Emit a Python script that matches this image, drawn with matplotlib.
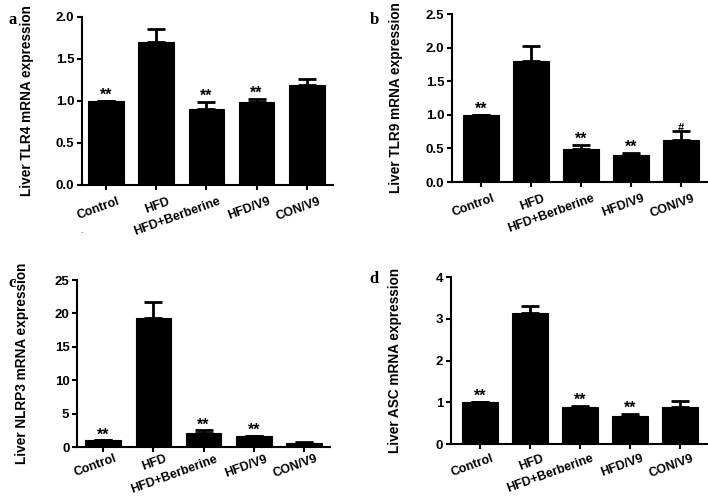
import matplotlib
matplotlib.use('Agg')
import matplotlib.pyplot as plt
from matplotlib.transforms import ScaledTranslation

# groups on the x axis
groups = ['Control', 'HFD', 'HFD+Berberine', 'HFD/V9', 'CON/V9']

# mean and upper error (SEM)
tlr4 = [1.0, 1.70, 0.905, 0.985, 1.195]
tlr4_err = [0.0, 0.155, 0.08, 0.04, 0.065]
tlr4_sig = ['**', '', '**', '**', '']

tlr9 = [1.0, 1.80, 0.49, 0.40, 0.625]
tlr9_err = [0.0, 0.22, 0.065, 0.035, 0.135]
tlr9_sig = ['**', '', '**', '**', '#']

nlrp3 = [1.0, 19.25, 2.1, 1.6, 0.6]
nlrp3_err = [0.0, 2.45, 0.4, 0.1, 0.1]
nlrp3_sig = ['**', '', '**', '**', '']

asc = [1.0, 3.14, 0.88, 0.68, 0.89]
asc_err = [0.0, 0.17, 0.035, 0.04, 0.13]
asc_sig = ['**', '', '**', '**', '']

plt.rcParams['font.family'] = ['Liberation Sans', 'DejaVu Sans']
plt.rcParams['font.weight'] = 'bold'

fig = plt.figure(figsize=(7.08, 4.97), dpi=100)

panels = [
    # letter, rect, values, errors, marks, ylabel, ylim, yticks, fmt, xlim, letter pos, label drop
    ('a', [0.1158, 0.6278, 0.3545, 0.338], tlr4, tlr4_err, tlr4_sig,
     'Liver TLR4 mRNA expression', 2.0, [0, 0.5, 1.0, 1.5, 2.0], '%.1f', (-0.48, 4.52), (0.012, 0.975), 0.16),
    ('b', [0.6384, 0.6338, 0.3616, 0.338], tlr9, tlr9_err, tlr9_sig,
     'Liver TLR9 mRNA expression', 2.5, [0, 0.5, 1.0, 1.5, 2.0, 2.5], '%.1f', (-0.58, 4.54), (0.522, 0.975), 0.16),
    ('c', [0.1088, 0.1006, 0.3573, 0.336], nlrp3, nlrp3_err, nlrp3_sig,
     'Liver NLRP3 mRNA expression', 25, [0, 5, 10, 15, 20, 25], '%d', (-0.52, 4.52), (0.012, 0.447), 0.115),
    ('d', [0.637, 0.1066, 0.363, 0.336], asc, asc_err, asc_sig,
     'Liver ASC mRNA expression', 4, [0, 1, 2, 3, 4], '%d', (-0.58, 4.56), (0.522, 0.455), 0.14),
]

x = list(range(len(groups)))

for letter, rect, vals, errs, sig, ylab, ytop, yt, fmt, xl, lpos, drop in panels:
    ax = fig.add_axes(rect)
    ax.bar(x, vals, width=0.71, color='black', edgecolor='black', linewidth=0.8, zorder=2)
    ax.errorbar(x, vals, yerr=[[0] * len(errs), errs], fmt='none', ecolor='black',
                elinewidth=2, capsize=6.5, capthick=2, zorder=1)
    for i, s in enumerate(sig):
        if s:
            fs = 8 if s == '#' else 11.5
            ax.text(i, vals[i] + errs[i] - ytop * 0.012, s, ha='center', va='bottom',
                    fontsize=fs, fontweight='bold')
    ax.set_xlim(*xl)
    ax.set_ylim(0, ytop)
    ax.set_yticks(yt)
    ax.set_yticklabels([fmt % v for v in yt], fontsize=9.5, fontweight='bold')
    ax.set_xticks(x)
    ax.set_xticklabels([])
    off = ax.get_xaxis_transform() + ScaledTranslation(0.13, -drop, fig.dpi_scale_trans)
    for i, g in enumerate(groups):
        ax.text(i, 0, g, transform=off, rotation=20, ha='right', va='center',
                rotation_mode='anchor', fontsize=9, fontweight='bold')
    for side in ['top', 'right']:
        ax.spines[side].set_visible(False)
    for side in ['left', 'bottom']:
        ax.spines[side].set_linewidth(1.5)
    ax.tick_params(width=1.5, length=3.5, pad=2)
    ax.set_ylabel(ylab, fontsize=9.8, fontweight='bold')
    ax.yaxis.set_label_coords(-0.19, 0.5)
    fig.text(lpos[0], lpos[1], letter, fontsize=12, fontweight='bold',
             family='Liberation Serif', va='top')

# small stray mark under panel a
fig.text(0.116, 0.528, '-', fontsize=6, color='#999999', ha='center')

fig.savefig('out.png', dpi=100)
